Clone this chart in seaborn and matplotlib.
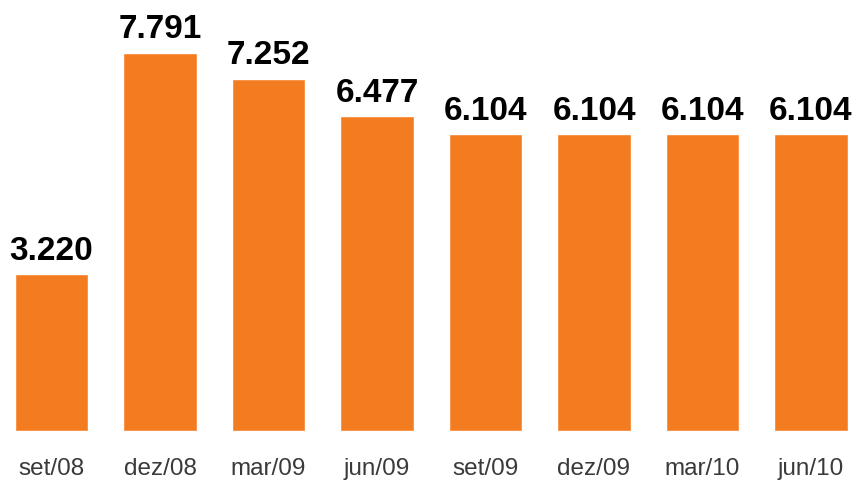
import matplotlib
matplotlib.use("Agg")
import matplotlib.pyplot as plt
import pandas as pd
import seaborn as sns

periods = ["set/08", "dez/08", "mar/09", "jun/09", "set/09", "dez/09", "mar/10", "jun/10"]
values = [3.220, 7.791, 7.252, 6.477, 6.104, 6.104, 6.104, 6.104]
value_labels = ["3.220", "7.791", "7.252", "6.477", "6.104", "6.104", "6.104", "6.104"]

df = pd.DataFrame({"periodo": periods, "valor": values})

sns.set_style("white")
plt.rcParams["font.family"] = ["Liberation Sans", "DejaVu Sans"]

fig = plt.figure(figsize=(8.57, 4.83), dpi=100)
# axes: bar bottom at ~430 px from top, full width
ax = fig.add_axes([0, 52.5 / 483, 1, 430.5 / 483])

sns.barplot(data=df, x="periodo", y="valor", color="#F47C20", width=0.68,
            saturation=1, ax=ax)

ax.set_xlim((0 - 51.5) / 108.5, (857 - 51.5) / 108.5)
ax.set_ylim(0, 430.5 / 48.5)

ax.bar_label(ax.containers[0], labels=value_labels, padding=5.5,
             fontsize=24, fontweight="bold", color="black")

ax.set_xlabel("")
ax.set_ylabel("")
ax.set_yticks([])
ax.tick_params(axis="x", length=0, pad=20, labelsize=17.5, labelcolor="#3a3a3a")
sns.despine(ax=ax, left=True, bottom=True)

fig.savefig("out.png", dpi=100)
